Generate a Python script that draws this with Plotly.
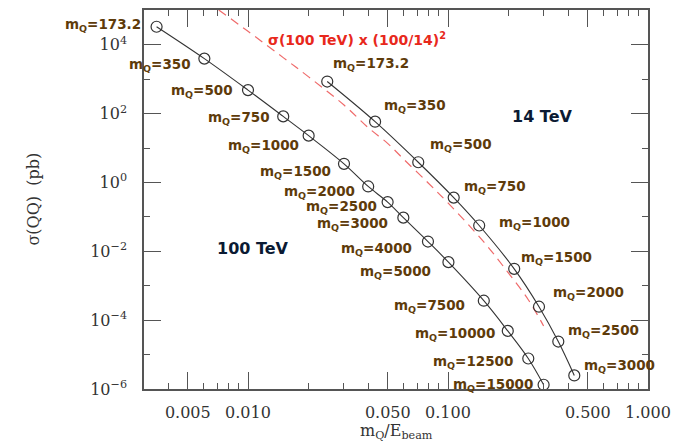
import math
import plotly.graph_objects as go

# ---------------- data ----------------
labels_100 = ["173.2", "350", "500", "750", "1000", "1500", "2000", "2500", "3000",
              "4000", "5000", "7500", "10000", "12500", "15000"]
x_100 = [0.00349, 0.00605, 0.0100, 0.0150, 0.0201, 0.0302, 0.0399, 0.0499, 0.0598,
         0.0794, 0.1005, 0.151, 0.199, 0.252, 0.3006]
sigma_100 = [3.34e4, 3.96e3, 482, 83.0, 22.9, 3.48, 0.766, 0.269, 0.095,
             0.0192, 0.00484, 3.67e-4, 4.87e-5, 7.69e-6, 1.33e-6]

labels_14 = ["173.2", "350", "500", "750", "1000", "1500", "2000", "2500", "3000"]
x_14 = [0.0249, 0.0432, 0.0710, 0.1068, 0.1432, 0.2143, 0.2851, 0.356, 0.428]
sigma_14 = [855, 58.3, 3.87, 0.363, 0.0562, 0.0031, 2.46e-4, 2.39e-5, 2.48e-6]

# sigma(100 TeV) x (100/14)^2, plotted at the 100 TeV abscissae
sigma_scaled = [1.704e6, 2.02e5, 2.46e4, 4.235e3, 1.168e3, 177.5, 39.1, 13.7, 4.85,
                0.98, 0.247, 0.01872, 2.485e-3, 3.92e-4, 6.79e-5]

x_tick_vals = [0.005, 0.01, 0.05, 0.1, 0.5, 1.0]
x_tick_text = ["0.005", "0.010", "0.050", "0.100", "0.500", "1.000"]
x_minor_vals = [0.004, 0.006, 0.007, 0.008, 0.009, 0.02, 0.03, 0.04, 0.06, 0.07, 0.08, 0.09,
                0.2, 0.3, 0.4, 0.6, 0.7, 0.8, 0.9]
y_tick_vals = [1e-6, 1e-4, 1e-2, 1, 1e2, 1e4]
y_tick_text = ["10<sup>\u22126</sup>", "10<sup>\u22124</sup>", "10<sup>\u22122</sup>",
               "10<sup>0</sup>", "10<sup>2</sup>", "10<sup>4</sup>"]
y_minor_vals = [1e-5, 1e-3, 1e-1, 10, 1e3]

# ---------------- label placement (pixels relative to each circle) ----------------
off_100 = [(-14, 2), (-11, -6), (-13, -1), (-11, -2), (-8, -10), (-11, -8), (-11, -6), (-9, -5),
           (-13, -6), (-14, -7), (-15, -10), (-17, -5), (-11, -3), (-13, -3), (-9, 0)]
off_14 = [(4, 18), (7, 16), (10, 17), (8, 11), (18, 3), (5, 11), (12, 14), (8, 11), (8, 9)]

LINE = "#333333"
AX = "#555555"
BROWN = "#5e3b0a"
SERIF = "DejaVu Serif"
SANS = "DejaVu Sans"

fig = go.Figure()

fig.add_trace(go.Scatter(x=x_100, y=sigma_scaled, mode="lines",
                         line=dict(color="#ef6a6a", width=1.2, dash="9px,6px", shape="spline"),
                         hoverinfo="skip", showlegend=False))
fig.add_trace(go.Scatter(x=x_100, y=sigma_100, mode="lines+markers",
                         line=dict(color=LINE, width=1.1, shape="spline"),
                         marker=dict(symbol="circle-open", size=11, color=LINE, line=dict(width=1.2)),
                         showlegend=False))
fig.add_trace(go.Scatter(x=x_14, y=sigma_14, mode="lines+markers",
                         line=dict(color=LINE, width=1.1, shape="spline"),
                         marker=dict(symbol="circle-open", size=11, color=LINE, line=dict(width=1.2)),
                         showlegend=False))

annotations = []
lab_font = dict(family=SANS, size=13.5, color=BROWN)
for lab, xv, yv, (dx, dy) in zip(labels_100, x_100, sigma_100, off_100):
    annotations.append(dict(x=math.log10(xv), y=math.log10(yv), xref="x", yref="y",
                            text="<b>m<sub>Q</sub>=" + lab + "</b>", showarrow=False,
                            xanchor="right", yanchor="middle", xshift=dx, yshift=dy,
                            font=lab_font))
for lab, xv, yv, (dx, dy) in zip(labels_14, x_14, sigma_14, off_14):
    annotations.append(dict(x=math.log10(xv), y=math.log10(yv), xref="x", yref="y",
                            text="<b>m<sub>Q</sub>=" + lab + "</b>", showarrow=False,
                            xanchor="left", yanchor="middle", xshift=dx, yshift=dy,
                            font=lab_font))

annotations += [
    dict(x=0.4226, y=0.924, xref="paper", yref="paper", showarrow=False,
         text="<b>\u03c3(100 TeV) x (100/14)<sup>2</sup></b>",
         font=dict(family=SANS, size=14, color="#e8281c"), xanchor="center", yanchor="middle"),
    dict(x=0.790, y=0.719, xref="paper", yref="paper", showarrow=False,
         text="<b>14 TeV</b>", font=dict(family=SANS, size=16, color="#0b1a33"),
         xanchor="center", yanchor="middle"),
    dict(x=0.217, y=0.370, xref="paper", yref="paper", showarrow=False,
         text="<b>100 TeV</b>", font=dict(family=SANS, size=16, color="#0b1a33"),
         xanchor="center", yanchor="middle"),
    dict(x=0.5, y=-0.113, xref="paper", yref="paper", showarrow=False,
         text="m<sub>Q</sub>/E<sub>beam</sub>", font=dict(family=SERIF, size=16, color="#333"),
         xanchor="center", yanchor="middle"),
    dict(x=-0.220, y=0.50, xref="paper", yref="paper", showarrow=False, textangle=-90,
         text="\u03c3(QQ)  (pb)", font=dict(family=SERIF, size=16, color="#333"),
         xanchor="center", yanchor="middle"),
]

axis_common = dict(showgrid=False, zeroline=False, showline=True, linecolor=AX, linewidth=1.5,
                   mirror="ticks", ticks="inside", tickcolor=AX, tickwidth=1.3, ticklen=17,
                   tickfont=dict(family=SERIF, size=16, color="#333"))

# the page body has an 8px margin, so the figure is 8px smaller in each direction
fig.update_layout(
    width=680, height=437, autosize=False,
    margin=dict(l=136, r=40, t=0, b=56),
    paper_bgcolor="white", plot_bgcolor="white",
    xaxis=dict(type="log", range=[-2.52, 0], tickmode="array", tickvals=x_tick_vals,
               ticktext=x_tick_text, ticklabelstandoff=8,
               minor=dict(tickmode="array", tickvals=x_minor_vals, ticks="inside", ticklen=6,
                          tickcolor=AX, tickwidth=1.2, showgrid=False),
               **axis_common),
    yaxis=dict(type="log", range=[-6, 5.01], tickmode="array", tickvals=y_tick_vals,
               ticktext=y_tick_text, ticklabelstandoff=12,
               minor=dict(tickmode="array", tickvals=y_minor_vals, ticks="inside", ticklen=6,
                          tickcolor=AX, tickwidth=1.2, showgrid=False),
               **axis_common),
    annotations=annotations,
)

fig.write_html("out.html")
